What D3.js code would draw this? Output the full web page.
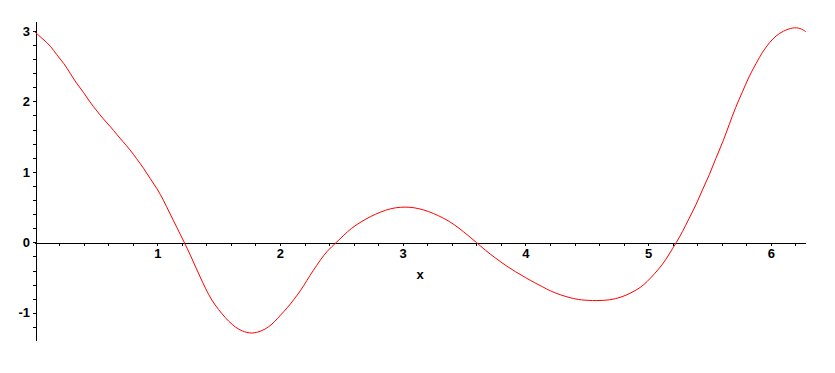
<!DOCTYPE html>
<html>
<head>
<meta charset="utf-8">
<script src="https://cdn.jsdelivr.net/npm/d3@7"></script>
<style>
    body { margin: 0; background: #fff; }
    #plot-chart text { font-family: "Liberation Sans", Arial, sans-serif; font-weight: bold; font-size: 13px; fill: #000; }
</style>
</head>
<body>
<div id="plot-chart"></div>
<script>
// values (x from 0 to 2*Pi)
var xVals = [0, 0.07, 0.13, 0.18, 0.24, 0.29, 0.34, 0.40, 0.45, 0.51, 0.56, 0.62, 0.67, 0.72, 0.78, 0.83, 0.89, 0.94, 1.0,
    1.05, 1.10, 1.16, 1.22, 1.27, 1.32, 1.37, 1.42, 1.47, 1.53, 1.58, 1.64, 1.69, 1.77, 1.85, 1.91, 1.96,
    2.0, 2.06, 2.11, 2.17, 2.22, 2.27, 2.33, 2.38, 2.46, 2.52, 2.58, 2.66, 2.74, 2.82, 2.90, 2.98,
    3.06, 3.13, 3.21, 3.29, 3.38, 3.46, 3.53, 3.60, 3.67, 3.76, 3.84, 3.92,
    4.0, 4.08, 4.14, 4.20, 4.29, 4.37, 4.45, 4.58, 4.69, 4.78, 4.86, 4.94, 4.99,
    5.05, 5.12, 5.17, 5.23, 5.28, 5.33, 5.39, 5.44, 5.50, 5.55, 5.61, 5.66, 5.71, 5.77, 5.82, 5.88, 5.93, 5.99,
    6.04, 6.10, 6.18, 6.24, 6.283];
var yVals = [2.99, 2.88, 2.79, 2.66, 2.54, 2.40, 2.26, 2.13, 1.99, 1.86, 1.75, 1.64, 1.53, 1.43, 1.31, 1.19, 1.05, 0.91, 0.76,
    0.60, 0.42, 0.21, 0, -0.18, -0.38, -0.57, -0.75, -0.89, -1.02, -1.12, -1.21, -1.26, -1.30, -1.26, -1.20, -1.12,
    -1.04, -0.93, -0.82, -0.68, -0.54, -0.40, -0.25, -0.13, 0, 0.10, 0.20, 0.29, 0.37, 0.43, 0.48, 0.50,
    0.50, 0.48, 0.44, 0.38, 0.30, 0.20, 0.10, 0, -0.11, -0.23, -0.33, -0.42,
    -0.50, -0.58, -0.63, -0.69, -0.75, -0.79, -0.82, -0.83, -0.82, -0.78, -0.72, -0.64, -0.56,
    -0.45, -0.31, -0.17, 0, 0.15, 0.33, 0.53, 0.74, 0.96, 1.19, 1.43, 1.67, 1.91, 2.14, 2.35, 2.54, 2.70, 2.84,
    2.93, 3.00, 3.05, 3.04, 2.99];
var xTicks = d3.range(1, 32).map(function (i) { return i / 5; });
var yTicks = d3.range(-6, 16).map(function (i) { return i / 5; });
var xLabel = 'x';

function PlotChart(xs, ys) {
    var self = this;
    self.points = xs.map(function (d, i) { return { x: d, y: ys[i] }; });
    self.init();
};

PlotChart.prototype.init = function () {
    var self = this;
    self.svgWidth = 835;
    self.svgHeight = 373;

    self.svg = d3.select('#plot-chart').append('svg')
        .attr('width', self.svgWidth)
        .attr('height', self.svgHeight);

    self.x = d3.scaleLinear().domain([0, 2 * Math.PI]).range([34.5, 805.7]);
    self.y = d3.scaleLinear().domain([-1.386, 3.14]).range([340, 21]);
};

PlotChart.prototype.update = function () {
    var self = this;
    var x = self.x, y = self.y;

    // only whole numbers get a label
    var fmt = function (d) {
        return Math.abs(d - Math.round(d)) < 1e-6 ? String(Math.round(d)) : '';
    };

    var xAxis = self.svg.append('g')
        .attr('transform', 'translate(0,' + (Math.round(y(0)) + 0.5) + ')')
        .call(d3.axisBottom(x).tickValues(xTicks).tickFormat(fmt).tickSizeInner(3).tickSizeOuter(0).tickPadding(3));
    xAxis.select('.domain').attr('shape-rendering', 'crispEdges');
    xAxis.selectAll('.tick line').attr('shape-rendering', 'crispEdges');
    xAxis.selectAll('text').attr('font-size', null).attr('font-family', null);

    var yAxis = self.svg.append('g')
        .attr('transform', 'translate(' + (Math.round(x(0)) + 0.5) + ',0)')
        .call(d3.axisLeft(y).tickValues(yTicks).tickFormat(fmt).tickSizeInner(3).tickSizeOuter(0).tickPadding(2.5));
    yAxis.select('.domain').attr('shape-rendering', 'crispEdges');
    yAxis.selectAll('.tick line').attr('shape-rendering', 'crispEdges');
    yAxis.selectAll('text').attr('font-size', null).attr('font-family', null);

    self.svg.append('text')
        .attr('x', x(Math.PI))
        .attr('y', y(0) + 37)
        .attr('text-anchor', 'middle')
        .text(xLabel);

    // basis curve smooths out the reading noise
    var line = d3.line()
        .x(function (d) { return x(d.x); })
        .y(function (d) { return y(d.y); })
        .curve(d3.curveBasis);

    self.svg.append('path')
        .datum(self.points)
        .attr('d', line)
        .attr('fill', 'none')
        .attr('stroke', '#ff0000')
        .attr('stroke-width', 1);
};

var chart = new PlotChart(xVals, yVals);
chart.update();
</script>
</body>
</html>
